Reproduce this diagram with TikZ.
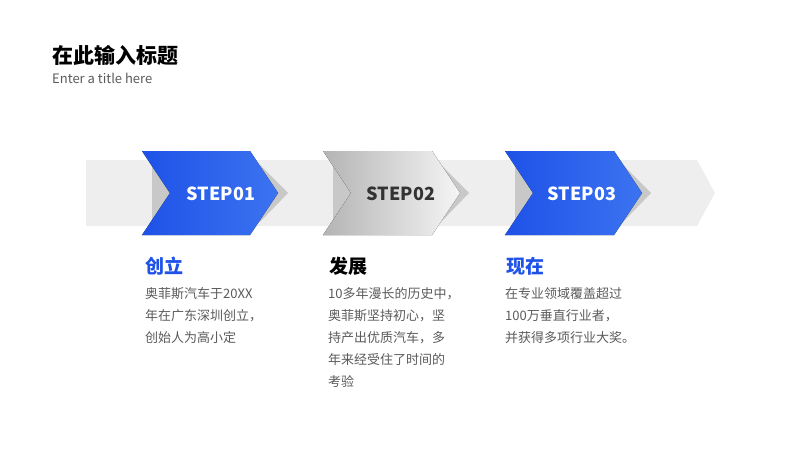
\documentclass[tikz,border=0pt]{standalone}
\usepackage{fontspec}
\setmainfont{Noto Sans CJK SC}
\usetikzlibrary{positioning}
\definecolor{stepblue}{RGB}{30,82,232}
\definecolor{stepblue2}{RGB}{60,115,240}
\definecolor{bandgray}{RGB}{238,238,238}
\definecolor{shadowgray}{RGB}{200,200,200}
\definecolor{bodygray}{RGB}{90,90,90}

\begin{document}
\begin{tikzpicture}[
    x=1pt, y=-1pt,
    steplabel/.style={font=\bfseries\fontsize{18}{20}\selectfont},
    heading/.style={anchor=west, text=stepblue, font=\bfseries\fontsize{19}{22}\selectfont},
    body/.style={anchor=north west, align=left, inner sep=0pt, text=bodygray,
                 font=\fontsize{13}{22}\selectfont}
]
    \useasboundingbox (0,0) rectangle (800,450);

    % Title
    \node[anchor=west, inner sep=0pt, font=\bfseries\fontsize{21}{24}\selectfont] (title) at (52,55) {在此输入标题};
    \node[anchor=west, inner sep=0pt, text=bodygray, font=\fontsize{13}{15}\selectfont] (subtitle) at (52,78) {Enter a title here};

    % Band
    \fill[bandgray] (86,160) -- (697,160) -- (715,193) -- (697,226) -- (86,226) -- cycle;

    % Chevrons
    \foreach \x/\name in {142/one, 323/two, 505/three} {
        \fill[shadowgray] (\x+10,165) -- (\x+118,165) -- (\x+146,193) -- (\x+118,222) -- (\x+10,222) -- cycle;
    }
    \fill[left color=stepblue, right color=stepblue2] (142,151) -- (250,151) -- (278,193) -- (250,235) -- (142,235) -- (170,193) -- cycle;
    \fill[left color=shadowgray!90!black, right color=bandgray!60!white] (323,151) -- (432,151) -- (460,193) -- (432,235) -- (323,235) -- (351,193) -- cycle;
    \fill[left color=stepblue, right color=stepblue2] (505,151) -- (614,151) -- (642,193) -- (614,235) -- (505,235) -- (533,193) -- cycle;

    \node[steplabel, text=white] (step1) at (221,194) {STEP01};
    \node[steplabel, text=black!80] (step2) at (401,194) {STEP02};
    \node[steplabel, text=white] (step3) at (582,194) {STEP03};

    % Columns
    \node[heading] (h1) at (142,266) {创立};
    \node[heading, text=black] (h2) at (326,266) {发展};
    \node[heading] (h3) at (503,266) {现在};

    \node[body] (b1) at (145,287) {奥菲斯汽车于20XX\\年在广东深圳创立，\\创始人为高小定};
    \node[body] (b2) at (328,287) {10多年漫长的历史中，\\奥菲斯坚持初心，坚\\持产出优质汽车，多\\年来经受住了时间的\\考验};
    \node[body] (b3) at (505,287) {在专业领域覆盖超过\\100万垂直行业者，\\并获得多项行业大奖。};
\end{tikzpicture}
\end{document}
